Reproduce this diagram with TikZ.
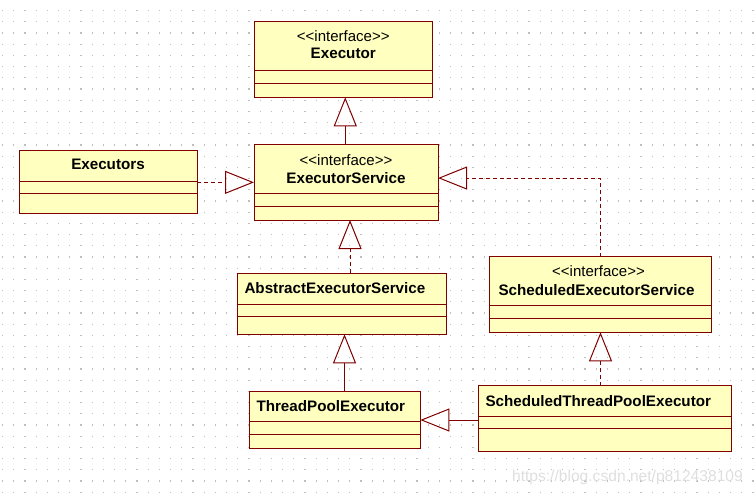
\documentclass[tikz,border=0pt]{standalone}
\usepackage{fontspec}
\setmainfont{Liberation Sans}
\usepackage{tikz}
\usetikzlibrary{arrows.meta,positioning,calc}
\definecolor{umlred}{RGB}{128,0,0}
\definecolor{umlfill}{RGB}{255,255,192}
\definecolor{griddot}{RGB}{190,190,190}
\definecolor{wmgray}{RGB}{222,222,222}
% class box: name, x, y, width, height, first divider, second divider
\newcommand\umlclass[7]{%
  \node[classbox,minimum width=#4pt,minimum height=#5pt] (#1) at (#2,#3) {};
  \draw[classline] ($(#1.north west)+(0,#6)$) -- ($(#1.north east)+(0,#6)$);
  \draw[classline] ($(#1.north west)+(0,#7)$) -- ($(#1.north east)+(0,#7)$);
}
\newcommand\stereo{<\kern0pt<interface>\kern0pt>}

\begin{document}
\begin{tikzpicture}[x=1pt,y=-1pt,
  classbox/.style={rectangle,draw=umlred,fill=umlfill,line width=1pt,anchor=north west,inner sep=0pt,outer sep=0pt},
  classline/.style={draw=umlred,line width=1pt},
  classname/.style={font=\fontsize{15.2}{18}\selectfont\bfseries,inner sep=0pt},
  stereotype/.style={font=\fontsize{15}{18}\selectfont,inner sep=0pt},
  extends/.style={draw=umlred,line width=1pt,-{Triangle[open,length=29pt,width=23pt]}},
  realizes/.style={extends,dash pattern=on 4pt off 3pt},
  watermark/.style={font=\fontsize{15.6}{18}\selectfont,text=wmgray,inner sep=0pt}]
\useasboundingbox (0,0) rectangle (754,495);
%%%%% background grid:
\foreach \i in {0,...,67}{
  \foreach \j in {0,...,43}{
    \fill[griddot] (2+\i*11.2,10+\j*11.2) rectangle ++(1.2,1.2);
  }
}
%%%%% classes:
\umlclass{executor}{254}{21.7}{178.5}{75.6}{49}{61.3}
\umlclass{executorservice}{254}{144.7}{184}{75.3}{48.6}{61.6}
\umlclass{executors}{19}{150}{178}{63}{31.7}{43.3}
\umlclass{abstractes}{237.3}{273.3}{209.4}{61}{31}{43.4}
\umlclass{scheduledes}{489.3}{256.7}{222.4}{75.6}{49}{62}
\umlclass{threadpool}{249.3}{391.7}{171}{56.6}{29.3}{42.6}
\umlclass{scheduledtp}{478.3}{385.7}{253.4}{65.3}{31}{43}
%%%%% class names:
\node[stereotype,anchor=base] (executor-st) at ($(executor.north)+(0,20)$) {\stereo};
\node[classname,anchor=base] (executor-nm) at ($(executor.north)+(0,37.3)$) {Executor};
\node[stereotype,anchor=base] (executorservice-st) at ($(executorservice.north)+(0,20.3)$) {\stereo};
\node[classname,anchor=base] (executorservice-nm) at ($(executorservice.north)+(0,38.6)$) {ExecutorService};
\node[classname,anchor=base] (executors-nm) at ($(executors.north)+(0,19.3)$) {Executors};
\node[classname,anchor=base west] (abstractes-nm) at ($(abstractes.north west)+(7,20)$) {AbstractExecutorService};
\node[stereotype,anchor=base] (scheduledes-st) at ($(scheduledes.north)+(-2,20)$) {\stereo};
\node[classname,anchor=base] (scheduledes-nm) at ($(scheduledes.north)+(-4,38.3)$) {ScheduledExecutorService};
\node[classname,anchor=base west] (threadpool-nm) at ($(threadpool.north west)+(7,19.3)$) {ThreadPoolExecutor};
\node[classname,anchor=base west] (scheduledtp-nm) at ($(scheduledtp.north west)+(7,20.3)$) {ScheduledThreadPoolExecutor};
%%%%% relations:
\coordinate (es-top) at ($(executor.south)+(2,0)$);
\coordinate (es-right) at ($(executorservice.east)+(0,-4.3)$);
\coordinate (es-bottom) at ($(executorservice.south)+(4,0)$);
\coordinate (aes-bottom) at ($(abstractes.south)+(2.5,0)$);
\draw[extends] (executorservice.north -| es-top) -- (es-top);
\draw[realizes] (executors.east |- executorservice.west) -- (executorservice.west);
\draw[realizes] (scheduledes.north) |- (es-right);
\draw[realizes] (abstractes.north -| es-bottom) -- (es-bottom);
\draw[extends] (threadpool.north -| aes-bottom) -- (aes-bottom);
\draw[extends] (scheduledtp.west |- threadpool.east) -- (threadpool.east);
\draw[realizes] (scheduledtp.north -| scheduledes.south) -- (scheduledes.south);
%%%%% watermark:
\node[watermark,anchor=base east] (wm) at (743,481.7) {https://blog.csdn.net/p812438109};
\end{tikzpicture}
\end{document}
